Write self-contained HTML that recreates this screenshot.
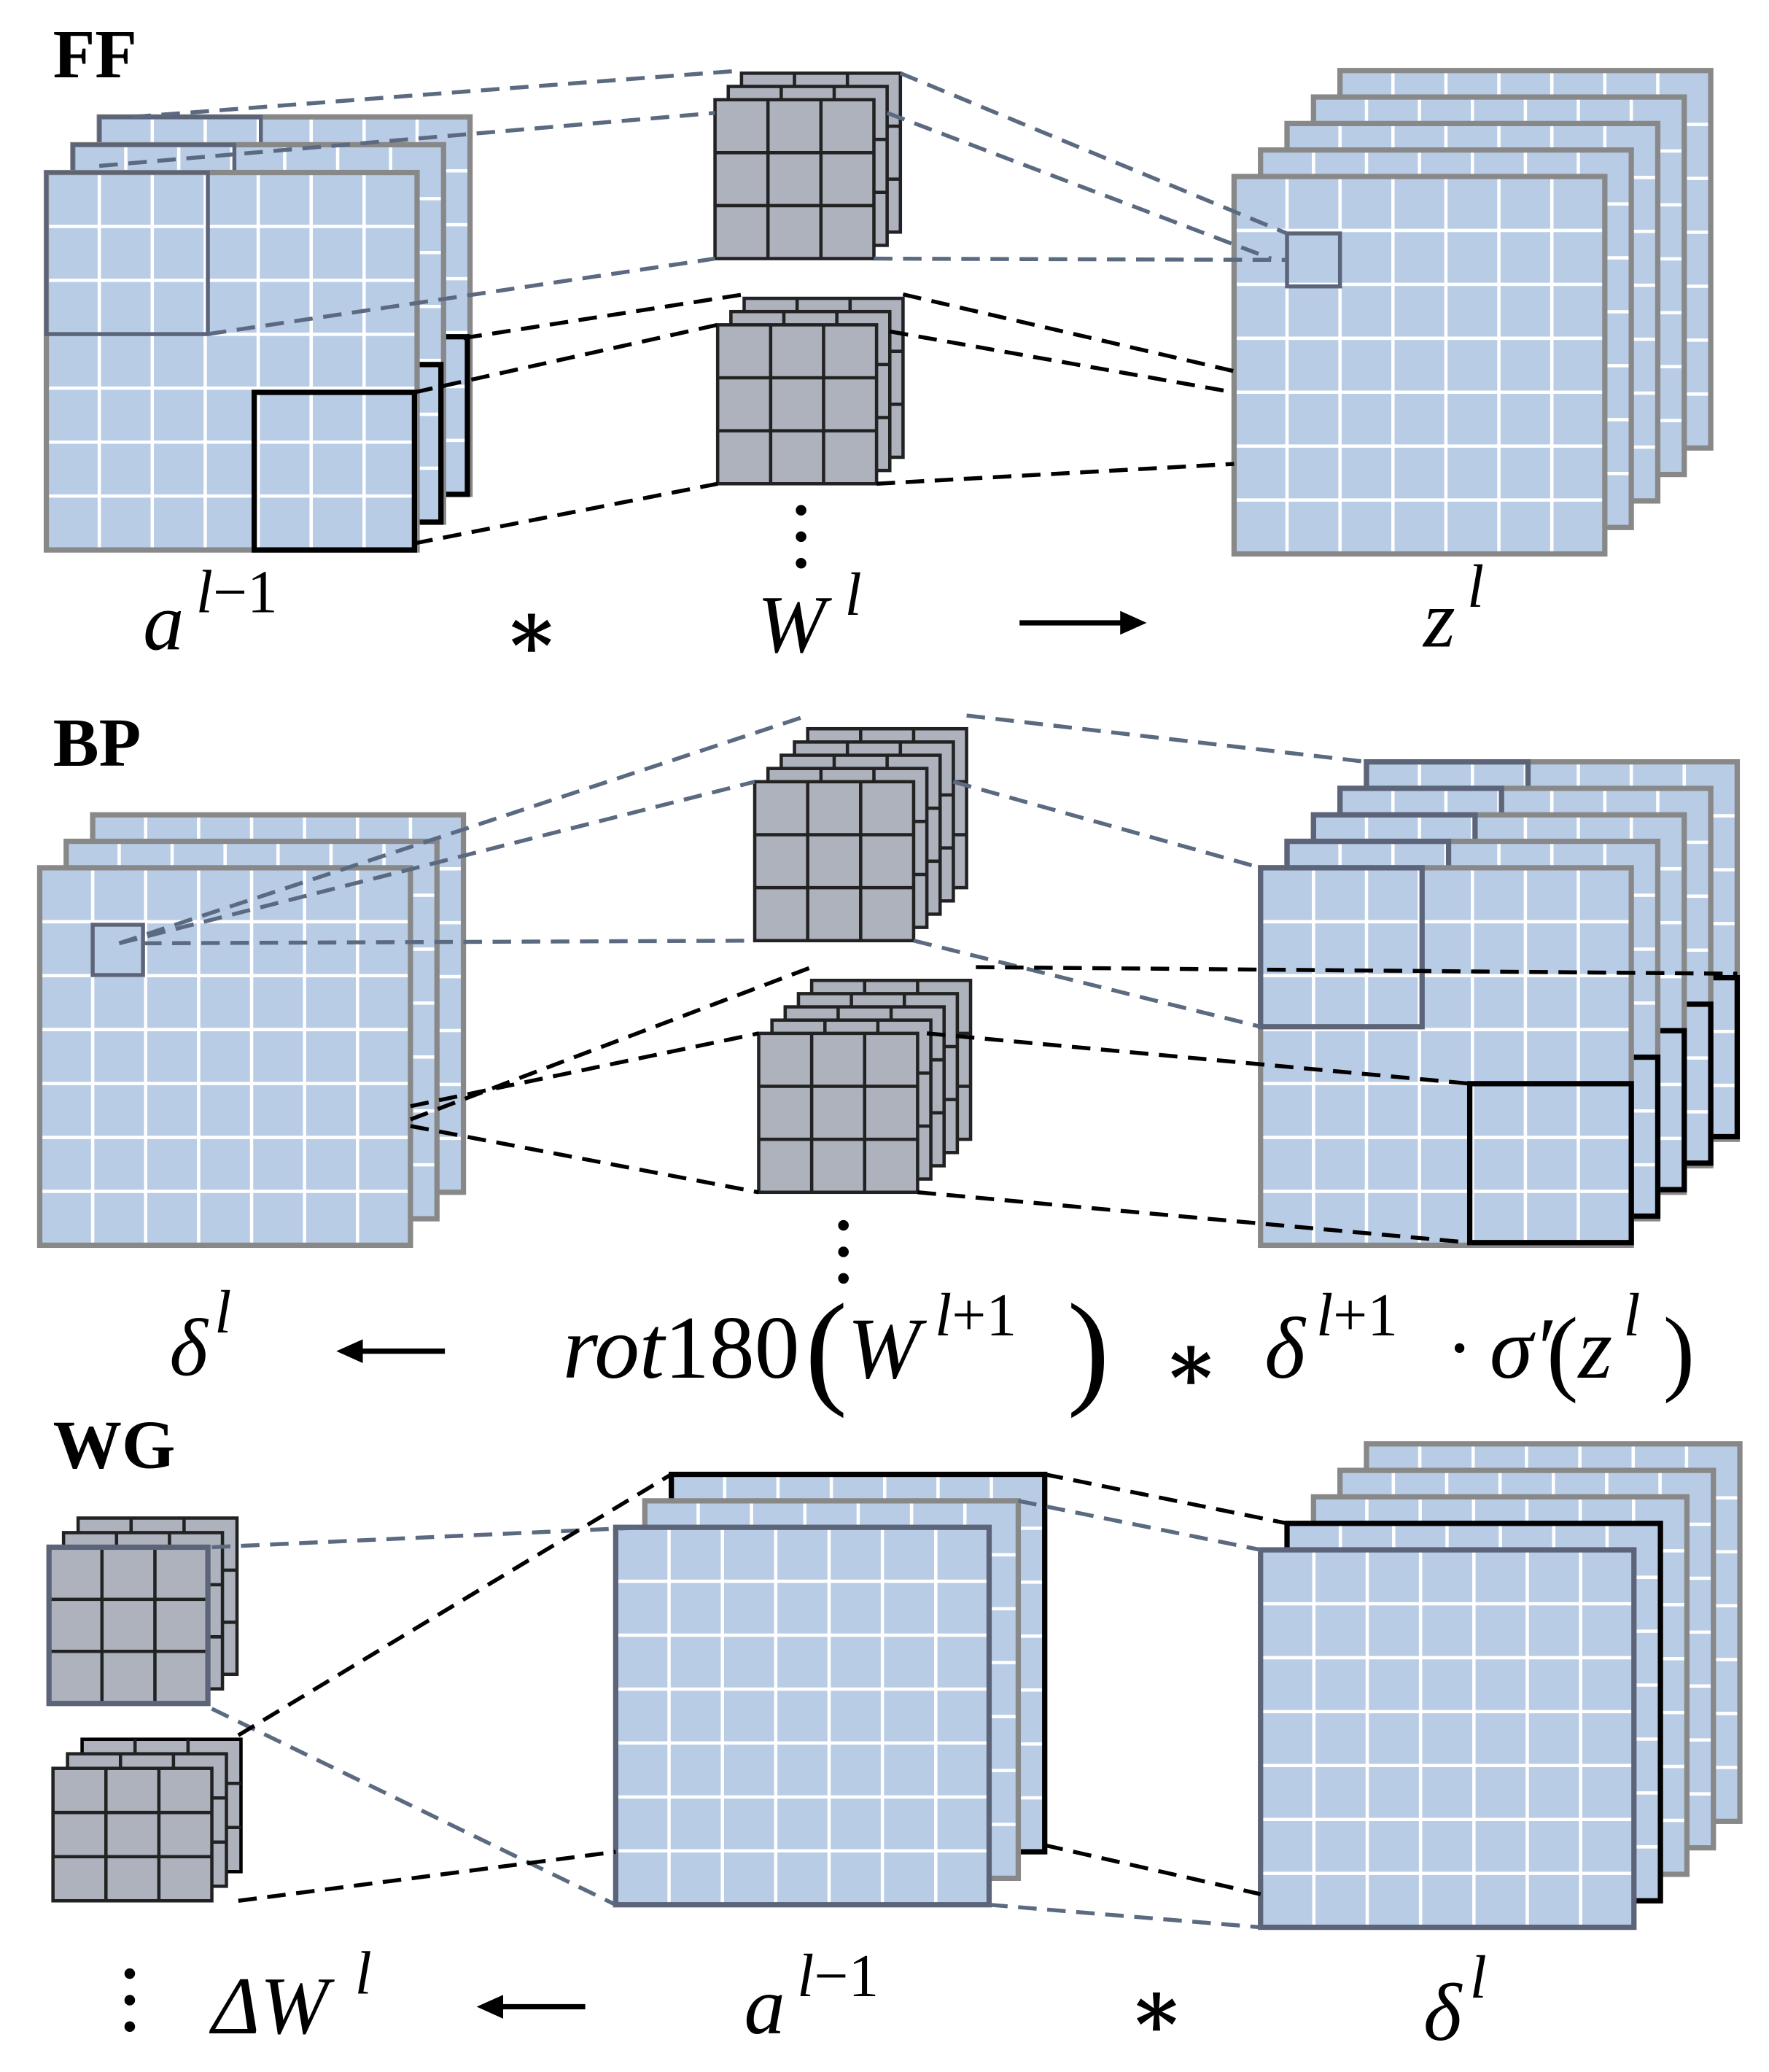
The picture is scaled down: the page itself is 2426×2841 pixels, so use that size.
<!DOCTYPE html>
<html><head><meta charset="utf-8"><style>
html,body{margin:0;padding:0;background:#fff;}
svg{display:block}
.m{font-family:"Liberation Serif","DejaVu Serif",serif;font-style:italic;font-size:62px;fill:#000}
.n{font-family:"Liberation Serif","DejaVu Serif",serif;font-size:62px;fill:#000}
.s{font-family:"Liberation Serif","DejaVu Serif",serif;font-size:46px;fill:#000}
.h{font-family:"Liberation Serif",serif;font-weight:bold;font-size:52px;fill:#000}
</style></head><body>
<svg id="s" width="2426" height="2841" viewBox="0 0 1336 1564" xmlns="http://www.w3.org/2000/svg">
<g id="g"></g>
<text class="h" x="40" y="58">FF</text>
<text class="h" x="40" y="578">BP</text>
<text class="h" x="40" y="1108">WG</text>
<text class="m" x="108" y="490">a</text><text class="s" x="148" y="462"><tspan font-style="italic">l</tspan>−1</text>
<text class="n" x="380" y="497" font-weight="bold">∗</text>
<text class="m" x="572" y="492">W</text><text class="s" x="638" y="464" font-style="italic">l</text>
<text class="m" x="1075" y="488">z</text><text class="s" x="1108" y="458" font-style="italic">l</text>
<text class="m" x="128" y="1038">δ</text><text class="s" x="162" y="1006" font-style="italic">l</text>
<text class="m" x="425" y="1040" style="font-size:68px">rot<tspan font-style="normal">180</tspan></text>
<text class="n" x="608" y="1050" style="font-size:96px">(</text>
<text class="m" x="640" y="1040" style="font-size:66px">W</text><text class="s" x="706" y="1008"><tspan font-style="italic">l</tspan>+1</text>
<text class="n" x="806" y="1050" style="font-size:96px">)</text>
<text class="n" x="878" y="1050" font-weight="bold">∗</text>
<text class="m" x="955" y="1040" style="font-size:66px">δ</text><text class="s" x="994" y="1008"><tspan font-style="italic">l</tspan>+1</text>
<text class="n" x="1092" y="1038">·</text>
<text class="m" x="1125" y="1040" style="font-size:66px">σ′</text>
<text class="n" x="1168" y="1044" style="font-size:72px">(</text>
<text class="m" x="1192" y="1040" style="font-size:66px">z</text><text class="s" x="1226" y="1008" font-style="italic">l</text>
<text class="n" x="1256" y="1044" style="font-size:72px">)</text>
<text class="m" x="160" y="1535">ΔW</text><text class="s" x="268" y="1505" font-style="italic">l</text>
<text class="m" x="562" y="1535">a</text><text class="s" x="602" y="1507"><tspan font-style="italic">l</tspan>−1</text>
<text class="n" x="852" y="1538" font-weight="bold">∗</text>
<text class="m" x="1075" y="1540">δ</text><text class="s" x="1110" y="1508" font-style="italic">l</text>
</svg>
<script>
var g=document.getElementById('g'),h='';
var GR='#888',ST='#5b6478',BL='#000';
function grid(x,y,w,h0,n,bc,bw){var s='<rect x="'+x+'" y="'+y+'" width="'+w+'" height="'+h0+'" fill="#b8cce6"/>';
for(var i=1;i<n;i++){var xx=x+w*i/n,yy=y+h0*i/n;s+='<line x1="'+xx+'" y1="'+y+'" x2="'+xx+'" y2="'+(y+h0)+'" stroke="#fff" stroke-width="2.5"/><line x1="'+x+'" y1="'+yy+'" x2="'+(x+w)+'" y2="'+yy+'" stroke="#fff" stroke-width="2.5"/>';}
s+='<rect x="'+x+'" y="'+y+'" width="'+w+'" height="'+h0+'" fill="none" stroke="'+(bc||GR)+'" stroke-width="'+(bw||4)+'"/>';return s;}
function box(x,y,w,h0,c,bw){return '<rect x="'+x+'" y="'+y+'" width="'+w+'" height="'+h0+'" fill="none" stroke="'+c+'" stroke-width="'+bw+'"/>';}
function kern(x,y,w,h0,bc){var s='<rect x="'+x+'" y="'+y+'" width="'+w+'" height="'+h0+'" fill="#adb2bd" stroke="'+(bc||'#222')+'" stroke-width="2.5"/>';
for(var i=1;i<3;i++){var xx=x+w*i/3,yy=y+h0*i/3;s+='<line x1="'+xx+'" y1="'+y+'" x2="'+xx+'" y2="'+(y+h0)+'" stroke="#222" stroke-width="2.5"/><line x1="'+x+'" y1="'+yy+'" x2="'+(x+w)+'" y2="'+yy+'" stroke="#222" stroke-width="2.5"/>';}return s;}
function kstack(x,y,w,h0,n,dx,dy,bc,fc){var s='';for(var i=n-1;i>=0;i--)s+=kern(x+dx*i,y-dy*i,w,h0,i==0?(fc||'#222'):(i==n-1&&bc?bc:'#222'));return s;}
function dl(a,c,w){return '<line x1="'+a[0]+'" y1="'+a[1]+'" x2="'+a[2]+'" y2="'+a[3]+'" stroke="'+c+'" stroke-width="'+(w||3)+'" stroke-dasharray="14,8"/>';}
function dots(x,y){return '<circle cx="'+x+'" cy="'+y+'" r="4"/><circle cx="'+x+'" cy="'+(y+20)+'" r="4"/><circle cx="'+x+'" cy="'+(y+40)+'" r="4"/>';}
for(var i=2;i>=0;i--){var ox=35+20*i,oy=130-21*i;h+=grid(ox,oy,280,285,7);h+=box(ox+157,oy+166,121,119,BL,4);h+=box(ox,oy,122,122,ST,3);}
h+=kstack(540,75,120,120,3,10,10);h+=kstack(542,245,120,120,3,10,10);
h+=dots(605,385);
for(var i=4;i>=0;i--)h+=grid(932+20*i,133-20*i,280,285,7);
h+=box(972,176,40,40,ST,3);
var G='#5b6a80';
h+=dl([100,88,560,53],G)+dl([75,125,540,85],G)+dl([157,252,540,195],G);
h+=dl([680,55,972,176],G)+dl([670,85,960,195],G)+dl([660,195,972,196],G);
h+=dl([350,255,562,222],BL)+dl([313,296,542,245],BL)+dl([313,410,542,365],BL);
h+=dl([682,222,932,280],BL)+dl([672,250,932,296],BL)+dl([662,365,932,350],BL);
h+='<line x1="770" y1="470" x2="850" y2="470" stroke="#000" stroke-width="4"/><polygon points="866,470 846,461 846,479" fill="#000"/>';
for(var i=2;i>=0;i--)h+=grid(30+20*i,655-20*i,280,285,7);
h+=box(70,698,38,38,ST,3);
h+=kstack(570,590,120,120,5,10,10);h+=kstack(573,780,120,120,5,10,10);
h+=dots(637,925);
for(var i=4;i>=0;i--){var ox=952+20*i,oy=655-20*i;h+=grid(ox,oy,280,285,7);h+=box(ox,oy,122,120,ST,4);h+=box(ox+158,oy+163,122,120,BL,4);}
h+=dl([90,712,610,540],G)+dl([90,712,570,590],G)+dl([108,712,570,710],G)+dl([730,540,1032,575],G)+dl([720,590,952,655],G)+dl([690,710,952,775],G);
h+=dl([310,845,613,730],BL)+dl([310,835,573,780],BL)+dl([310,850,573,900],BL)+dl([737,730,1312,735],BL)+dl([700,780,1110,818],BL)+dl([693,900,1110,938],BL);
h+='<line x1="270" y1="1020" x2="336" y2="1020" stroke="#000" stroke-width="4"/><polygon points="254,1020 274,1011 274,1029" fill="#000"/>';
h+=kstack(37,1168,120,118,3,11,11,null,ST);
h+='<rect x="37" y="1168" width="120" height="118" fill="none" stroke="'+ST+'" stroke-width="4"/>';
h+=kstack(40,1335,120,100,3,11,11,BL);
h+=dots(98,1490);
h+=grid(507,1113,282,285,7,BL,4)+grid(487,1133,282,285,7,GR,4)+grid(465,1153,282,285,7,ST,4);
for(var i=4;i>=0;i--){h+=grid(952+20*i,1170-20*i,282,285,7,i==1?BL:(i==0?ST:GR),4);}
h+=dl([160,1168,487,1153],G)+dl([160,1290,465,1438],G)+dl([180,1310,507,1113],BL)+dl([180,1435,465,1398],BL);
h+=dl([789,1113,972,1150],BL)+dl([769,1133,952,1170],G)+dl([789,1393,952,1430],BL)+dl([747,1438,952,1455],G);
h+='<line x1="376" y1="1515" x2="442" y2="1515" stroke="#000" stroke-width="4"/><polygon points="360,1515 380,1506 380,1524" fill="#000"/>';
g.innerHTML=h;
</script>
</body></html>
